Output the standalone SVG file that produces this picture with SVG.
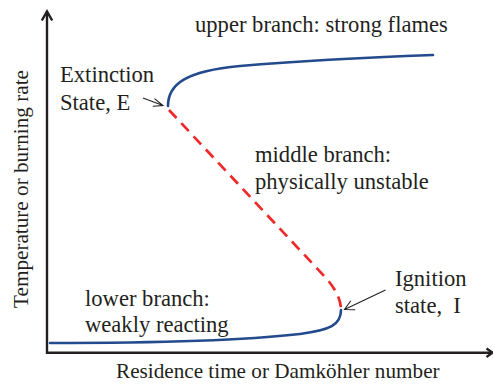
<svg xmlns="http://www.w3.org/2000/svg" width="493" height="385" viewBox="0 0 493 385">
<style>
text{font-family:"Liberation Serif","Times New Roman",serif;fill:#231f20;}
.lbl{font-size:22.6px;}
.ax{font-size:21.2px;}
.axis{stroke:#231f20;stroke-width:2.4;fill:none;}
.blue{stroke:#234a8c;stroke-width:2.6;fill:none;stroke-linecap:round;}
.red{stroke:#f0282a;stroke-width:2.7;fill:none;stroke-dasharray:11 7;}
.ptr{stroke:#231f20;stroke-width:1.1;fill:none;}
</style>
<rect width="493" height="385" fill="#fff"/>
<g id="axes">
<path class="axis" d="M47,12 L47,352.7 L491,352.7"/>
<path class="axis" d="M41.8,20.5 L47,11.5 L52.2,20.5" stroke-width="2"/>
<path class="axis" d="M486.5,348.5 L492.5,352.7 L486.5,357" stroke-width="2"/>
<text class="ax" x="116" y="378">Residence time or Damköhler number</text>
<text class="ax" transform="translate(28,189) rotate(-90)" text-anchor="middle">Temperature or burning rate</text>
</g>
<g id="upper-branch">
<path class="blue" d="M168,106 C168,84 186,71 240,66 C300,61 380,57 433,55"/>
<text class="lbl" x="195" y="32">upper branch: strong flames</text>
</g>
<g id="middle-branch">
<path class="red" d="M169,110 L326,278 Q341,295 341,310"/>
<text class="lbl" x="255" y="162">middle branch:</text>
<text class="lbl" x="255" y="189">physically unstable</text>
</g>
<g id="lower-branch">
<path class="blue" d="M341,310 C341,325 330,330 300,334 C230,342 120,343 50,343"/>
<text class="lbl" x="85" y="306">lower branch:</text>
<text class="lbl" x="85" y="332">weakly reacting</text>
</g>
<g id="extinction">
<text class="lbl" x="60" y="82">Extinction</text>
<text class="lbl" x="60" y="110">State, E</text>
</g>
<g id="ignition">
<text class="lbl" x="395" y="286">Ignition</text>
<text class="lbl" x="395" y="313">state,&#160; I</text>
</g>
<g id="connectors">
<path class="ptr" d="M143,98 L163,105.5 M154.5,98.6 L163,105.5 L152.8,106.3"/>
<path class="ptr" d="M385.5,290 L344.5,309.5 M350.8,300.7 L344.5,309.5 L355.2,309.8"/>
</g>
</svg>
